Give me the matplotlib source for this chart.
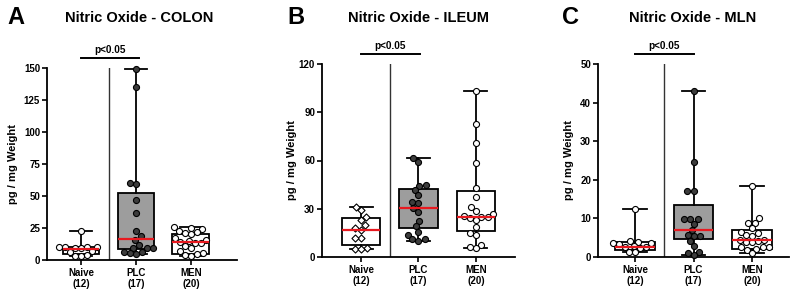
import numpy as np
import matplotlib
matplotlib.use("Agg")
import matplotlib.pyplot as plt
import matplotlib.transforms as mtransforms

plt.rcParams['font.family'] = ['Liberation Sans', 'DejaVu Sans']
plt.rcParams['font.weight'] = 'bold'

groups = ["Naive\n(12)", "PLC\n(17)", "MEN\n(20)"]

# values (pg / mg weight)
colon_naive = [22.5, 10.5, 10.5, 10, 10, 9.5, 9, 7, 6.5, 4, 3.5, 3.5]
colon_plc = [149, 135, 60, 59, 47, 37, 23, 18.5, 16, 12, 9.5, 9, 9, 6.5, 6, 5.5, 5]
colon_men = [25.5, 25, 24.5, 23, 22, 21, 20, 17, 16, 15, 14, 13.5, 13, 11, 9, 7, 5.5, 5, 4, 3]

ileum_naive = [31.3, 29, 25, 23, 20, 18, 16.8, 11.6, 11.6, 5.4, 5.2, 4.8]
ileum_plc = [61.4, 59.3, 45, 44.2, 41.7, 38.6, 34.4, 33.8, 30.3, 28, 22.6, 19.3, 15.8, 13.7, 11, 11, 10.2]
ileum_men = [103.2, 82.7, 71.1, 58.3, 42.7, 37.5, 31.3, 28.8, 26.7, 25.5, 25, 25, 24.5, 23,
             18.8, 15.1, 13.7, 7.5, 6.4, 5.4]

mln_naive = [12.4, 4.2, 4.0, 3.7, 3.7, 3.3, 2.9, 2.7, 2.7, 2.4, 1.4, 1.3]
mln_plc = [43, 24.7, 17.2, 17.2, 9.8, 9.8, 9.8, 8.5, 7.0, 5.7, 5.5, 5.5, 4.2, 2.8, 1.4, 1.0, 0.5]
mln_men = [18.4, 10.0, 8.9, 8.7, 7.4, 6.6, 6.1, 5.7, 5.5, 4.5, 4.4, 4.2, 4.0, 3.8, 2.7, 2.6,
           2.5, 2.2, 1.8, 1.0]

# box quartiles (q1, median, q3) as drawn
colon_box = [(4.5, 8.5, 10.3), (8.5, 16.3, 52.6), (5.0, 13.7, 20.5)]
ileum_box = [(7.5, 16.8, 24.2), (17.8, 30.3, 42.5), (16.4, 24.8, 40.8)]
mln_box = [(1.8, 2.6, 3.9), (4.6, 7.0, 13.5), (2.0, 4.4, 7.0)]

red = '#e8191f'
W, H = 797, 290
fig = plt.figure(figsize=(W / 100, H / 100), dpi=100)


def swarm(vals, ypx, d):
    vals = np.asarray(vals, float)
    placed = []
    offs = np.zeros(len(vals))
    for i in np.argsort(vals):
        y = vals[i] * ypx
        cands = [0.0]
        for px, py in placed:
            dy = abs(py - y)
            if dy < d:
                dx = np.sqrt(d * d - dy * dy)
                cands += [px - dx, px + dx]
        cands.sort(key=abs)
        for c in cands:
            if all((c - px) ** 2 + (y - py) ** 2 >= d * d - 1e-6 for px, py in placed):
                break
        placed.append((c, y))
        offs[i] = c
    return offs


def panel(rect, letter, letter_x, title, title_x, data, boxes, ymax, step, xlim, pbar, ylab_x, naive_marker):
    ax = fig.add_axes(rect)
    ax.set_xlim(*xlim)
    ax.set_ylim(0, ymax)
    xpx = rect[2] * W / (xlim[1] - xlim[0])
    ypx = rect[3] * H / ymax

    stats = []
    for vals, (q1, med, q3) in zip(data, boxes):
        stats.append(dict(med=med, q1=q1, q3=q3, whislo=min(vals), whishi=max(vals)))
    fills = ['white', '#9d9d9d', 'white']
    bp = ax.bxp(stats, positions=[0, 1, 2], widths=0.67, capwidths=0.4, showfliers=False,
                patch_artist=True,
                boxprops=dict(edgecolor='black', linewidth=1.3),
                whiskerprops=dict(color='black', linewidth=1.3),
                capprops=dict(color='black', linewidth=1.3),
                medianprops=dict(color=red, linewidth=1.6, zorder=5))
    for patch, fc in zip(bp['boxes'], fills):
        patch.set_facecolor(fc)

    faces = ['white', '#3c3c3c', 'white']
    markers = [naive_marker, 'o', 'o']
    for i, vals in enumerate(data):
        offs = swarm(vals, ypx, 6.3) / xpx
        ax.scatter(i + offs, vals, s=19 if markers[i] == 'o' else 13, marker=markers[i],
                   facecolor=faces[i], edgecolor='black', linewidth=0.8, zorder=4, clip_on=False)

    # separator between naive and treated groups
    ax.plot([0.5, 0.5], [0, ymax], color='#333333', linewidth=1.0, zorder=1)

    # significance bar
    trans = mtransforms.blended_transform_factory(ax.transData, ax.transAxes)
    ax.plot(pbar, [1.052, 1.052], color='black', linewidth=1.4, transform=trans, clip_on=False)
    ax.text(np.mean(pbar), 1.066, "p<0.05", transform=trans, ha='center', va='bottom',
            fontsize=7.2, fontweight='bold')

    for s in ['top', 'right']:
        ax.spines[s].set_visible(False)
    for s in ['left', 'bottom']:
        ax.spines[s].set_linewidth(1.3)
    ax.set_yticks(np.arange(0, ymax + 0.1, step))
    ax.set_xticks([0, 1, 2])
    ax.set_xticklabels(groups, fontsize=7, fontweight='bold', linespacing=1.15)
    ax.tick_params(axis='both', width=1.2, length=3.5, labelsize=7)
    ax.tick_params(axis='x', pad=2)
    ax.tick_params(axis='y', pad=1.5)
    for lab in ax.get_yticklabels():
        lab.set_fontweight('bold')
    ax.set_ylabel("pg / mg Weight", fontsize=8, fontweight='bold')
    ax.yaxis.set_label_coords(ylab_x, 0.5)

    fig.text(letter_x / W, 1 - 18 / H, letter, fontsize=17, fontweight='bold', va='center', ha='left')
    fig.text(title_x / W, 1 - 18 / H, title, fontsize=10.5, fontweight='bold', va='center', ha='center')
    return ax


panel([47 / W, 1 - 260 / H, 190 / W, 192 / H], "A", 7, "Nitric Oxide - COLON", 139,
      [colon_naive, colon_plc, colon_men], colon_box, 150, 25, (-0.62, 2.84), [0, 1.05], -0.15, 'o')
panel([322 / W, 1 - 257 / H, 193 / W, 193 / H], "B", 287, "Nitric Oxide - ILEUM", 418,
      [ileum_naive, ileum_plc, ileum_men], ileum_box, 120, 30, (-0.68, 2.68), [0, 1.02], -0.13, 'D')
panel([598 / W, 1 - 257 / H, 191 / W, 193 / H], "C", 562, "Nitric Oxide - MLN", 693,
      [mln_naive, mln_plc, mln_men], mln_box, 50, 10, (-0.63, 2.63), [0, 1.0], -0.125, 'o')

fig.savefig("out.png", dpi=100)
